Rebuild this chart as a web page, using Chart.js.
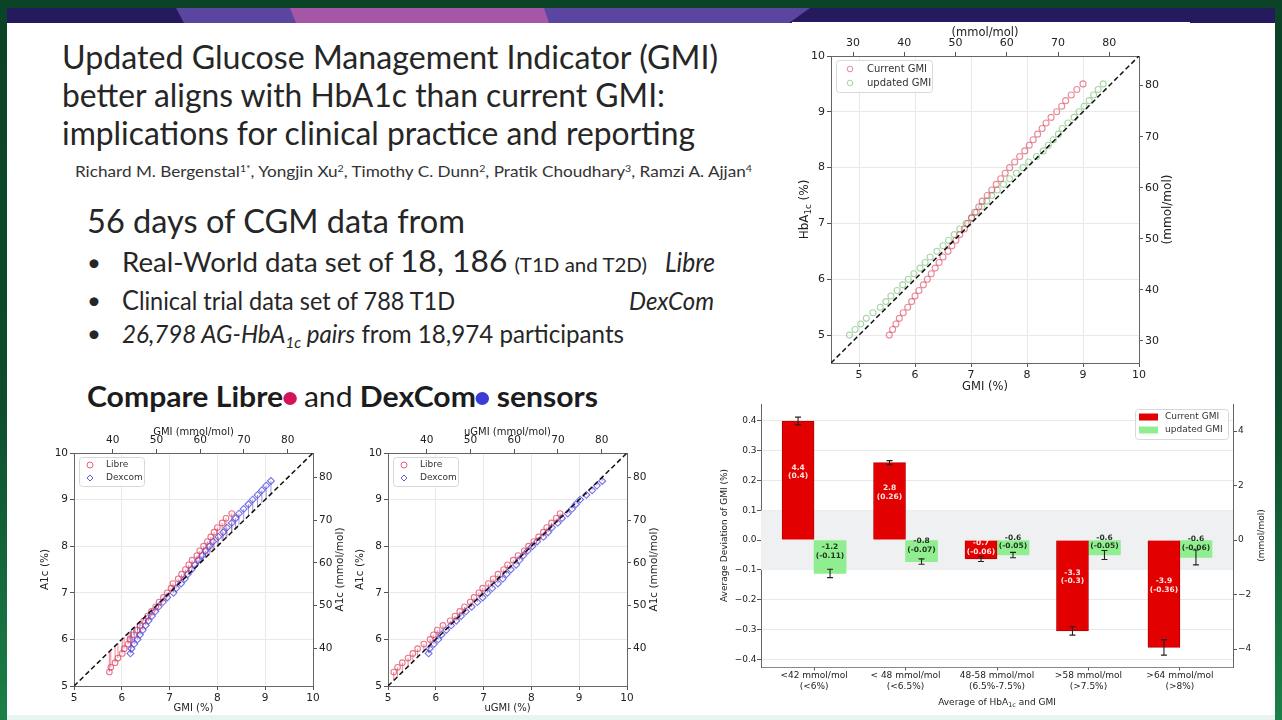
<!DOCTYPE html>
<html>
<head>
<meta charset="utf-8">
<title>Updated GMI vs current GMI</title>
<script src="https://cdn.jsdelivr.net/npm/chart.js@4.4.1/dist/chart.umd.min.js"></script>
<style>
  html, body { margin: 0; padding: 0; }
  body {
    width: 1282px; height: 720px; overflow: hidden; position: relative;
    background: linear-gradient(180deg, #0a4326 0%, #0d4b2c 55%, #1b8048 100%);
  }
  #slide { position: absolute; left: 7px; top: 23px; width: 1268px; height: 697px; background: #fff; }
  #band { position: absolute; left: 7px; top: 8px; width: 1268px; height: 15px; background: #241a5d; overflow: hidden; }
  .shape { position: absolute; left: 0; top: 0; width: 1268px; height: 15px; }
  #foot { position: absolute; left: 7px; top: 715px; width: 1268px; height: 5px; background: #e8f5ee; }
  .txt {
    position: absolute; white-space: nowrap; color: #262626; line-height: 1;
    font-family: Lato, 'Open Sans', sans-serif; transform-origin: 0 0;
  }
  .txt sup, .txt sub { font-size: 0.62em; position: relative; vertical-align: baseline; }
  .txt sup { top: -0.5em; }
  .txt sub { top: 0.3em; }
  .dot { display: inline-block; width: 13px; height: 13px; border-radius: 50%; vertical-align: 2px; }
  canvas { position: absolute; }
</style>
</head>
<body>
<div id="band">
  <div class="shape" style="background:#5a46a0;clip-path:polygon(169px 0,803px 0,782px 15px,177px 15px)"></div>
  <div class="shape" style="background:#a656a7;clip-path:polygon(283px 0,537px 0,542px 15px,289px 15px)"></div>
</div>
<div id="slide"></div>
<div id="foot"></div>

<div class="txt" data-x="62" data-b="69" data-w="656" style="font-size:32px">Updated Glucose Management Indicator (GMI)</div>
<div class="txt" data-x="62" data-b="107" data-w="603" style="font-size:32px">better aligns with HbA1c than current GMI:</div>
<div class="txt" data-x="62" data-b="145" data-w="633" style="font-size:32px">implications for clinical practice and reporting</div>
<div class="txt" data-x="75" data-b="177" data-w="677" style="font-size:15px;color:#333">Richard M. Bergenstal<sup>1*</sup>, Yongjin Xu<sup>2</sup>, Timothy C. Dunn<sup>2</sup>, Pratik Choudhary<sup>3</sup>, Ramzi A. Ajjan<sup>4</sup></div>

<div class="txt" data-x="87" data-b="233" data-w="378" style="font-size:32px">56 days of CGM data from</div>
<div class="txt" data-x="87" data-b="271" style="font-size:24px">•</div>
<div class="txt" data-x="122" data-b="272" data-w="525" style="font-size:27px">Real-World data set of <span style="font-size:31px">18, 186</span> <span style="font-size:20px">(T1D and T2D)</span></div>
<div class="txt" data-x="665" data-b="272" data-w="50" style="font-size:27px;font-style:italic">Libre</div>
<div class="txt" data-x="87" data-b="309" style="font-size:24px">•</div>
<div class="txt" data-x="122" data-b="310" data-w="333" style="font-size:25px"><span style="font-size:27px">C</span>linical trial data set of 788 T1D</div>
<div class="txt" data-x="629" data-b="310" data-w="85" style="font-size:25px;font-style:italic">DexCom</div>
<div class="txt" data-x="87" data-b="342" style="font-size:24px">•</div>
<div class="txt" data-x="122" data-b="343" data-w="502" style="font-size:25px"><i>26,798 AG-HbA<sub>1c</sub> pairs</i> from 18,974 participants</div>

<div class="txt" data-x="87" data-b="407" data-w="511" style="font-size:29px;font-weight:700;color:#1c1c1c">Compare Libre<span class="dot" style="background:#d4145a"></span> <span style="font-weight:400">and</span> DexCom<span class="dot" style="background:#3b3bd6"></span> sensors</div>

<canvas id="cTop" width="398" height="373" style="left:792px;top:22px;background:#fff"></canvas>
<canvas id="cGmi" width="320" height="295" style="left:30px;top:420px"></canvas>
<canvas id="cUgmi" width="320" height="295" style="left:350px;top:420px"></canvas>
<canvas id="cBar" width="570" height="320" style="left:705px;top:395px"></canvas>

<script>
// ---- data: top-right plot (HbA1c level vs mean GMI) ----
const hbaLevels = [5.0, 5.1, 5.2, 5.3, 5.4, 5.5, 5.6, 5.7, 5.8, 5.9,
                   6.0, 6.1, 6.2, 6.3, 6.4, 6.5, 6.6, 6.7, 6.8, 6.9,
                   7.0, 7.1, 7.2, 7.3, 7.4, 7.5, 7.6, 7.7, 7.8, 7.9,
                   8.0, 8.1, 8.2, 8.3, 8.4, 8.5, 8.6, 8.7, 8.8, 8.9,
                   9.0, 9.1, 9.2, 9.3, 9.4, 9.5];
const currentGmi = [5.54, 5.60, 5.66, 5.72, 5.79, 5.87, 5.94, 6.00, 6.07, 6.15,
                    6.22, 6.29, 6.36, 6.43, 6.50, 6.59, 6.66, 6.73, 6.80, 6.88,
                    6.94, 7.01, 7.07, 7.14, 7.20, 7.29, 7.37, 7.45, 7.53, 7.61,
                    7.69, 7.78, 7.87, 7.96, 8.04, 8.11, 8.19, 8.27, 8.34, 8.43,
                    8.53, 8.62, 8.69, 8.79, 8.89, 9.00];
const updatedGmi = [4.83, 4.93, 5.03, 5.13, 5.25, 5.38, 5.48, 5.57, 5.68, 5.78,
                    5.88, 5.98, 6.09, 6.18, 6.27, 6.39, 6.50, 6.60, 6.70, 6.80,
                    6.91, 7.01, 7.10, 7.19, 7.28, 7.37, 7.47, 7.58, 7.69, 7.81,
                    7.93, 8.03, 8.17, 8.29, 8.38, 8.47, 8.56, 8.63, 8.73, 8.84,
                    8.93, 9.02, 9.11, 9.19, 9.27, 9.36];

// ---- data: sensor comparison plots ----
const libreA1c = [5.3, 5.4, 5.5, 5.6, 5.7, 5.8, 5.9, 6.0, 6.1, 6.2,
                  6.3, 6.4, 6.5, 6.6, 6.7, 6.8, 6.9, 7.0, 7.1, 7.2,
                  7.3, 7.4, 7.5, 7.6, 7.7, 7.8, 7.9, 8.0, 8.1, 8.2,
                  8.3, 8.4, 8.5, 8.6, 8.7];
const libreGmi = [5.74, 5.77, 5.86, 5.92, 6.01, 6.05, 6.13, 6.17, 6.25, 6.33,
                  6.38, 6.46, 6.54, 6.62, 6.71, 6.78, 6.87, 6.95, 7.03, 7.07,
                  7.18, 7.25, 7.33, 7.40, 7.47, 7.57, 7.63, 7.71, 7.79, 7.86,
                  7.93, 8.00, 8.10, 8.18, 8.30];
const libreUgmi = [5.12, 5.20, 5.30, 5.42, 5.52, 5.62, 5.75, 5.88, 5.95, 6.03,
                   6.15, 6.30, 6.40, 6.50, 6.60, 6.72, 6.80, 6.90, 6.98, 7.10,
                   7.20, 7.30, 7.42, 7.50, 7.62, 7.72, 7.85, 7.94, 8.05, 8.15,
                   8.25, 8.32, 8.42, 8.52, 8.60];
const dexA1c = [5.7, 5.8, 5.9, 6.0, 6.1, 6.2, 6.3, 6.4, 6.5, 6.6,
                6.7, 6.8, 6.9, 7.0, 7.1, 7.2, 7.3, 7.4, 7.5, 7.6,
                7.7, 7.8, 7.9, 8.0, 8.1, 8.2, 8.3, 8.4, 8.5, 8.6,
                8.7, 8.8, 8.9, 9.0, 9.1, 9.2, 9.3, 9.4];
const dexGmi = [6.18, 6.20, 6.26, 6.33, 6.38, 6.44, 6.50, 6.56, 6.63, 6.70,
                6.77, 6.86, 6.95, 7.08, 7.14, 7.24, 7.32, 7.38, 7.46, 7.53,
                7.60, 7.68, 7.75, 7.83, 7.91, 8.02, 8.12, 8.20, 8.30, 8.38,
                8.45, 8.55, 8.65, 8.74, 8.84, 8.93, 9.02, 9.12];
const dexUgmi = [5.85, 5.87, 5.96, 6.05, 6.12, 6.22, 6.32, 6.43, 6.53, 6.63,
                 6.75, 6.87, 6.98, 7.08, 7.18, 7.30, 7.40, 7.48, 7.57, 7.68,
                 7.75, 7.83, 7.92, 8.02, 8.12, 8.25, 8.35, 8.43, 8.55, 8.64,
                 8.76, 8.85, 8.93, 9.02, 9.15, 9.27, 9.37, 9.48];

// ---- axes ----
const pctTicks = [5, 6, 7, 8, 9, 10];
const mmolTicksTop = [30, 40, 50, 60, 70, 80];
const mmolTicksLow = [40, 50, 60, 70, 80];
const rangeTop = [4.5, 10];
const rangeLow = [5, 10];

// ---- data: deviation bar chart ----
const bandLabels = [['<42 mmol/mol', '(<6%)'], ['< 48 mmol/mol', '(<6.5%)'],
                    ['48-58 mmol/mol', '(6.5%-7.5%)'], ['>58 mmol/mol', '(>7.5%)'],
                    ['>64 mmol/mol', '(>8%)']];
const currentDev = [0.40, 0.26, -0.063, -0.305, -0.36];
const currentErr = [0.013, 0.007, 0.009, 0.014, 0.026];
const updatedDev = [-0.112, -0.072, -0.05, -0.05, -0.058];
const updatedErr = [0.014, 0.009, 0.009, 0.015, 0.025];
const currentText = [['4.4', '(0.4)'], ['2.8', '(0.26)'], ['-0.7', '(-0.06)'], ['-3.3', '(-0.3)'], ['-3.9', '(-0.36)']];
const updatedText = [['-1.2', '(-0.11)'], ['-0.8', '(-0.07)'], ['-0.6', '(-0.05)'], ['-0.6', '(-0.05)'], ['-0.6', '(-0.06)']];
const devTicks = [-0.4, -0.3, -0.2, -0.1, 0, 0.1, 0.2, 0.3, 0.4];
const devMmolTicks = [-4, -2, 0, 2, 4];
const devRange = [-0.426, 0.457];
const toleranceBand = [-0.1, 0.1];

// % HbA1c -> IFCC mmol/mol
const toMmol = v => (v - 2.15) * 10.929;

Chart.defaults.font.family = "'DejaVu Sans', sans-serif";
Chart.defaults.color = '#222';

// place slide text on its baseline and squeeze it to the measured width
function placeText() {
  document.querySelectorAll('.txt').forEach(el => {
    const mark = document.createElement('span');
    mark.style.cssText = 'display:inline-block;width:0;height:0;vertical-align:baseline';
    el.appendChild(mark);
    el.style.left = el.dataset.x + 'px';
    el.style.top = '0px';
    const base = mark.getBoundingClientRect().top - el.getBoundingClientRect().top;
    el.style.top = (el.dataset.b - base) + 'px';
    if (el.dataset.w) {
      const w = el.getBoundingClientRect().width;
      el.style.transform = 'scaleX(' + (el.dataset.w / w) + ')';
    }
  });
}

// text with ~subscript~ parts, centred on (x, y)
function drawRich(ctx, text, x, y, rot, size) {
  const pieces = text.split('~').map((t, i) => ({ t, sub: i % 2 === 1 }));
  const fontFor = p => (p.sub ? size * 0.72 : size) + "px 'DejaVu Sans'";
  let total = 0;
  pieces.forEach(p => { ctx.font = fontFor(p); p.w = ctx.measureText(p.t).width; total += p.w; });
  ctx.save();
  ctx.translate(x, y);
  ctx.rotate(rot);
  ctx.fillStyle = '#222';
  ctx.textBaseline = 'middle';
  ctx.textAlign = 'left';
  let cx = -total / 2;
  pieces.forEach(p => {
    ctx.font = fontFor(p);
    ctx.fillText(p.t, cx, p.sub ? size * 0.3 : 0);
    cx += p.w;
  });
  ctx.restore();
}

function axisTitles(items) {
  return {
    id: 'axisTitles',
    afterDraw(chart) {
      const a = chart.chartArea, ctx = chart.ctx;
      const mx = (a.left + a.right) / 2, my = (a.top + a.bottom) / 2;
      items.forEach(it => {
        if (it.side === 'left') drawRich(ctx, it.text, a.left - it.off, my, -Math.PI / 2, it.size);
        else if (it.side === 'right') drawRich(ctx, it.text, a.right + it.off, my, -Math.PI / 2, it.size);
        else if (it.side === 'top') drawRich(ctx, it.text, mx, a.top - it.off, 0, it.size);
        else drawRich(ctx, it.text, mx, a.bottom + it.off, 0, it.size);
      });
    }
  };
}

function insetLegend(items, box) {
  return {
    id: 'insetLegend',
    afterDraw(chart) {
      const { ctx, chartArea: a } = chart;
      const x0 = box.right ? a.right - box.dx - box.w : a.left + box.dx;
      const y0 = a.top + box.dy;
      ctx.save();
      ctx.fillStyle = 'rgba(255,255,255,0.85)';
      ctx.strokeStyle = '#d8d8d8';
      ctx.lineWidth = 1;
      ctx.beginPath();
      ctx.roundRect(Math.round(x0) + 0.5, Math.round(y0) + 0.5, box.w, box.h, 3);
      ctx.fill();
      ctx.stroke();
      ctx.font = box.font + "px 'DejaVu Sans'";
      ctx.textBaseline = 'middle';
      items.forEach((it, i) => {
        const cy = y0 + box.row0 + i * box.gap;
        const mx = x0 + box.mark;
        ctx.strokeStyle = it.color;
        ctx.fillStyle = it.color;
        ctx.lineWidth = 1;
        ctx.beginPath();
        if (it.kind === 'circle') {
          ctx.arc(mx, cy, box.r, 0, 2 * Math.PI);
          ctx.stroke();
        } else if (it.kind === 'diamond') {
          ctx.moveTo(mx, cy - box.r); ctx.lineTo(mx + box.r, cy);
          ctx.lineTo(mx, cy + box.r); ctx.lineTo(mx - box.r, cy);
          ctx.closePath();
          ctx.stroke();
        } else {
          ctx.fillRect(mx - 9.5, cy - 3.5, 19, 7);
        }
        ctx.fillStyle = '#333';
        ctx.fillText(it.label, x0 + box.text, cy);
      });
      ctx.restore();
    }
  };
}

// vertical residual from each point to the identity line
const residuals = {
  id: 'residuals',
  beforeDatasetsDraw(chart) {
    const { ctx, chartArea: a, scales: { x, y } } = chart;
    ctx.save();
    ctx.beginPath();
    ctx.rect(a.left, a.top, a.right - a.left, a.bottom - a.top);
    ctx.clip();
    ctx.lineWidth = 0.9;
    chart.data.datasets.forEach(ds => {
      if (!ds.residualColor) return;
      ctx.strokeStyle = ds.residualColor;
      ds.data.forEach(p => {
        const px = x.getPixelForValue(p.x);
        ctx.beginPath();
        ctx.moveTo(px, y.getPixelForValue(p.y));
        ctx.lineTo(px, y.getPixelForValue(p.x));
        ctx.stroke();
      });
    });
    ctx.restore();
  }
};

function axis(position, min, max, ticks, fontSize, size, grid, fmt, pad) {
  return {
    type: 'linear', position, min, max,
    afterBuildTicks: s => { s.ticks = ticks.map(v => ({ value: v })); },
    afterFit: s => { if (s.isHorizontal()) s.height = size; else s.width = size; },
    ticks: { font: { size: fontSize }, color: '#222', padding: pad === undefined ? 2 : pad,
             maxRotation: 0, autoSkip: false, callback: fmt || (v => String(v)) },
    grid: { drawOnChartArea: grid, color: '#e9e9e9', tickLength: 4, tickColor: '#555' },
    border: { color: '#666' }
  };
}

const pts = (xs, ys) => xs.map((v, i) => ({ x: v, y: ys[i] }));

function identity(range) {
  return {
    data: [{ x: range[0], y: range[0] }, { x: range[1], y: range[1] }],
    showLine: true, pointRadius: 0, borderColor: '#111', borderWidth: 1.5, borderDash: [5, 3]
  };
}

const baseOptions = {
  responsive: false, animation: false,
  layout: { padding: 0 },
  plugins: { legend: { display: false }, tooltip: { enabled: false } }
};

// ---- top-right: current vs updated GMI ----
new Chart(document.getElementById('cTop'), {
  type: 'scatter',
  data: {
    datasets: [
      identity(rangeTop),
      { data: pts(currentGmi, hbaLevels), pointRadius: 3, pointBorderWidth: 1.1,
        borderColor: 'rgba(214,40,70,0.55)', backgroundColor: 'rgba(0,0,0,0)' },
      { data: pts(updatedGmi, hbaLevels), pointRadius: 3, pointBorderWidth: 1.1,
        borderColor: 'rgba(60,165,60,0.45)', backgroundColor: 'rgba(0,0,0,0)' }
    ]
  },
  options: Object.assign({}, baseOptions, {
    scales: {
      x: axis('bottom', rangeTop[0], rangeTop[1], pctTicks, 11, 32, true),
      x2: axis('top', toMmol(rangeTop[0]), toMmol(rangeTop[1]), mmolTicksTop, 11, 34, false),
      y: axis('left', rangeTop[0], rangeTop[1], pctTicks, 11, 39, true),
      y2: axis('right', toMmol(rangeTop[0]), toMmol(rangeTop[1]), mmolTicksTop, 11, 51, false)
    }
  }),
  plugins: [
    axisTitles([
      { side: 'left', text: 'HbA~1c~ (%)', off: 26, size: 12 },
      { side: 'right', text: '(mmol/mol)', off: 29, size: 12 },
      { side: 'top', text: '(mmol/mol)', off: 23, size: 11.5 },
      { side: 'bottom', text: 'GMI (%)', off: 24, size: 11.5 }
    ]),
    insetLegend([
      { label: 'Current GMI', kind: 'circle', color: 'rgba(214,40,70,0.55)' },
      { label: 'updated GMI', kind: 'circle', color: 'rgba(60,165,60,0.45)' }
    ], { dx: 5, dy: 4, w: 96, h: 32, row0: 9, gap: 14, mark: 14, text: 31, r: 2.8, font: 10 })
  ]
});

// ---- bottom: Libre vs Dexcom ----
function sensorChart(id, libreX, dexX, xName, sizes, offs) {
  return new Chart(document.getElementById(id), {
    type: 'scatter',
    data: {
      datasets: [
        identity(rangeLow),
        { data: pts(libreX, libreA1c), pointRadius: 2.8, pointBorderWidth: 1.1,
          borderColor: 'rgba(222,60,90,0.7)', backgroundColor: 'rgba(0,0,0,0)',
          residualColor: 'rgba(220,70,95,0.7)' },
        { data: pts(dexX, dexA1c), pointStyle: 'rectRot', pointRadius: 3.4, pointBorderWidth: 1.1,
          borderColor: 'rgba(60,50,220,0.7)', backgroundColor: 'rgba(0,0,0,0)',
          residualColor: 'rgba(70,60,200,0.6)' }
      ]
    },
    options: Object.assign({}, baseOptions, {
      scales: {
        x: axis('bottom', rangeLow[0], rangeLow[1], pctTicks, 10.5, sizes[3], true),
        x2: axis('top', toMmol(rangeLow[0]), toMmol(rangeLow[1]), mmolTicksLow, 10.5, sizes[1], false),
        y: axis('left', rangeLow[0], rangeLow[1], pctTicks, 10.5, sizes[0], true),
        y2: axis('right', toMmol(rangeLow[0]), toMmol(rangeLow[1]), mmolTicksLow, 10.5, sizes[2], false)
      }
    }),
    plugins: [
      residuals,
      axisTitles([
        { side: 'left', text: 'A1c (%)', off: offs[0], size: 10.5 },
        { side: 'right', text: 'A1c (mmol/mol)', off: offs[2], size: 10.5 },
        { side: 'top', text: xName + ' (mmol/mol)', off: offs[1], size: 10 },
        { side: 'bottom', text: xName + ' (%)', off: offs[3], size: 10 }
      ]),
      insetLegend([
        { label: 'Libre', kind: 'circle', color: 'rgba(222,60,90,0.8)' },
        { label: 'Dexcom', kind: 'diamond', color: 'rgba(60,50,220,0.8)' }
      ], { dx: 5, dy: 4, w: 65, h: 29, row0: 8, gap: 13, mark: 11, text: 27, r: 3, font: 9 })
    ]
  });
}
sensorChart('cGmi', libreGmi, dexGmi, 'GMI', [44, 33, 37, 29], [29, 21, 27, 22]);
sensorChart('cUgmi', libreUgmi, dexUgmi, 'uGMI', [38, 33, 43, 29], [28, 21, 27, 22]);

// ---- bottom-right: deviation by HbA1c band ----
const barExtras = {
  id: 'barExtras',
  beforeDatasetsDraw(chart) {
    const { ctx, chartArea: a, scales: { y } } = chart;
    const t = y.getPixelForValue(toleranceBand[1]), b = y.getPixelForValue(toleranceBand[0]);
    ctx.save();
    ctx.fillStyle = '#eef0f2';
    ctx.fillRect(a.left, t, a.right - a.left, b - t);
    ctx.restore();
  },
  afterDatasetsDraw(chart) {
    const { ctx, scales: { y } } = chart;
    ctx.save();
    chart.data.datasets.forEach((ds, i) => {
      chart.getDatasetMeta(i).data.forEach((bar, j) => {
        // error bar
        const top = y.getPixelForValue(ds.data[j] + ds.errors[j]);
        const bot = y.getPixelForValue(ds.data[j] - ds.errors[j]);
        ctx.strokeStyle = '#222';
        ctx.lineWidth = 1.1;
        ctx.beginPath();
        ctx.moveTo(bar.x, top); ctx.lineTo(bar.x, bot);
        ctx.moveTo(bar.x - 3, top); ctx.lineTo(bar.x + 3, top);
        ctx.moveTo(bar.x - 3, bot); ctx.lineTo(bar.x + 3, bot);
        ctx.stroke();
        // value label, a little above the middle of the bar
        const h = Math.abs(bar.base - bar.y);
        const lift = ds.textLift === 'auto' ? Math.min(8.5, h * 0.12) : ds.textLift;
        const cy = (bar.y + bar.base) / 2 - lift;
        ctx.fillStyle = ds.textColor;
        ctx.font = "bold 7.5px 'DejaVu Sans'";
        ctx.textAlign = 'center';
        ctx.textBaseline = 'middle';
        ctx.fillText(ds.texts[j][0], bar.x, cy - 4.2);
        ctx.fillText(ds.texts[j][1], bar.x, cy + 4.2);
      });
    });
    ctx.restore();
  }
};

const signed = (v, digits) => (v < 0 ? '\u2212' : '') + Math.abs(v).toFixed(digits);

new Chart(document.getElementById('cBar'), {
  type: 'bar',
  data: {
    labels: bandLabels,
    datasets: [
      { data: currentDev, backgroundColor: '#e30000', borderColor: '#b80000', borderWidth: 1,
        barThickness: 32, errors: currentErr, texts: currentText, textColor: '#ffe4e4', textLift: 'auto' },
      { data: updatedDev, backgroundColor: '#90ee90', borderWidth: 0,
        barThickness: 32, errors: updatedErr, texts: updatedText, textColor: '#1d331d', textLift: 5.5 }
    ]
  },
  options: Object.assign({}, baseOptions, {
    layout: { padding: { top: 9 } },
    scales: {
      x: {
        type: 'category', position: 'bottom', offset: true,
        afterBuildTicks: s => {
          // widen the outer margins a little, as in the source figure
          if (s._valueRange !== undefined) { s._startValue = -0.58; s._valueRange = bandLabels.length + 0.16; }
        },
        afterFit: s => { s.height = 48; },
        ticks: { font: { size: 9 }, color: '#222', padding: 0, maxRotation: 0, autoSkip: false },
        grid: { drawOnChartArea: false, offset: false, tickLength: 3.5, tickColor: '#555' },
        border: { color: '#888' }
      },
      y: axis('left', devRange[0], devRange[1], devTicks, 9, 56, true, v => signed(v, 1), 0.5),
      y2: axis('right', devRange[0] * 10.929, devRange[1] * 10.929, devMmolTicks, 9, 42, false, v => signed(v, 0), 1)
    }
  }),
  plugins: [
    barExtras,
    axisTitles([
      { side: 'left', text: 'Average Deviation of GMI (%)', off: 36, size: 9 },
      { side: 'right', text: '(mmol/mol)', off: 29, size: 9 },
      { side: 'bottom', text: 'Average of HbA~1c~ and GMI', off: 36, size: 9 }
    ]),
    insetLegend([
      { label: 'Current GMI', kind: 'rect', color: '#e30000' },
      { label: 'updated GMI', kind: 'rect', color: '#90ee90' }
    ], { right: true, dx: 5, dy: 5, w: 93, h: 30, row0: 8, gap: 13, mark: 13.5, text: 30, r: 0, font: 9 })
  ]
});

placeText();
</script>
</body>
</html>
